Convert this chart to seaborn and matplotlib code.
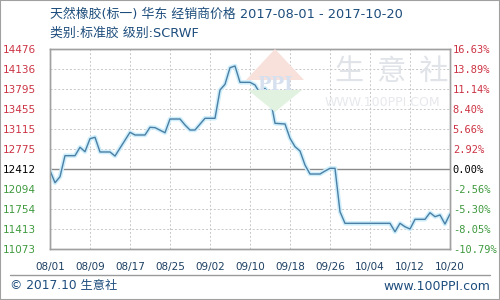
import matplotlib
matplotlib.use("Agg")
import matplotlib.pyplot as plt
from matplotlib.patches import Polygon, Rectangle
from matplotlib.lines import Line2D
import seaborn as sns
import pandas as pd

sns.set_theme(style="white")
plt.rcParams['font.family'] = ['Noto Sans CJK SC', 'DejaVu Sans']

# ---- data ----
dates = ["2017-08-01", "2017-08-02", "2017-08-03", "2017-08-04", "2017-08-06", "2017-08-07",
         "2017-08-08", "2017-08-09", "2017-08-10", "2017-08-11", "2017-08-13", "2017-08-14",
         "2017-08-17", "2017-08-18", "2017-08-20", "2017-08-21", "2017-08-22", "2017-08-24",
         "2017-08-25", "2017-08-27", "2017-08-28", "2017-08-29", "2017-08-30", "2017-09-01",
         "2017-09-03", "2017-09-04", "2017-09-05", "2017-09-06", "2017-09-07", "2017-09-08",
         "2017-09-10", "2017-09-11", "2017-09-12", "2017-09-13", "2017-09-14", "2017-09-15",
         "2017-09-17", "2017-09-18", "2017-09-19", "2017-09-20", "2017-09-21", "2017-09-22",
         "2017-09-24", "2017-09-25", "2017-09-26", "2017-09-27", "2017-09-28", "2017-09-29",
         "2017-10-08", "2017-10-09", "2017-10-10", "2017-10-11", "2017-10-12", "2017-10-13",
         "2017-10-15", "2017-10-16", "2017-10-17", "2017-10-18", "2017-10-19", "2017-10-20"]
prices = [12412, 12206, 12308, 12666, 12666, 12809,
          12734, 12955, 12979, 12729, 12729, 12660,
          13064, 13018, 13018, 13149, 13143, 13057,
          13290, 13290, 13188, 13103, 13103, 13302,
          13302, 13783, 13880, 14163, 14192, 13914,
          13914, 13869, 13727, 13812, 13670, 13217,
          13205, 12962, 12819, 12746, 12507, 12354,
          12354, 12405, 12451, 12451, 11713, 11515,
          11515, 11372, 11515, 11457, 11418, 11583,
          11583, 11696, 11628, 11657, 11503, 11674]
base_price = 12412
y_ticks = [11073, 11413, 11754, 12094, 12434, 12775, 13115, 13455, 13795, 14136, 14476]
y_labels_left = ["11073", "11413", "11754", "12094", "12412", "12775", "13115", "13455", "13795", "14136", "14476"]
y_labels_right = ["-10.79%", "-8.05%", "-5.30%", "-2.56%", "0.00%", "2.92%", "5.66%", "8.40%", "11.14%", "13.89%", "16.63%"]
x_tick_dates = ["2017-08-01", "2017-08-09", "2017-08-17", "2017-08-25", "2017-09-02", "2017-09-10",
                "2017-09-18", "2017-09-26", "2017-10-04", "2017-10-12", "2017-10-20"]
x_tick_labels = ["08/01", "08/09", "08/17", "08/25", "09/02", "09/10", "09/18", "09/26", "10/04", "10/12", "10/20"]
title_line1 = "天然橡胶(标一) 华东 经销商价格 2017-08-01 - 2017-10-20"
title_line2 = "类别:标准胶 级别:SCRWF"

df = pd.DataFrame({"date": pd.to_datetime(dates), "price": prices})

W, H = 500, 300
fig = plt.figure(figsize=(5, 3), dpi=100)
fig.patch.set_facecolor("white")

def fx(px):
    return px / W

def fy(py):
    return 1 - py / H

ax = fig.add_axes([fx(50), fy(249.3), fx(450) - fx(50), fy(49.3) - fy(249.3)])
ax.set_facecolor("white")

# watermark (behind)
logo_top = Polygon([(fx(275), fy(49)), (fx(246), fy(80)), (fx(304), fy(80))], closed=True,
                   transform=fig.transFigure, facecolor="#f8e0db", edgecolor="none", zorder=0)
logo_bot = Polygon([(fx(248), fy(90)), (fx(302), fy(90)), (fx(275), fy(112))], closed=True,
                   transform=fig.transFigure, facecolor="#e2f2e0", edgecolor="none", zorder=0)
fig.patches.extend([logo_top, logo_bot])
fig.text(fx(275), fy(85), "PPI", color="#d6e0ee", fontsize=13, fontweight="bold",
         ha="center", va="center", family=["DejaVu Serif"], zorder=0)
fig.text(fx(392), fy(72), "生  意  社", color="#e0e3e8", fontsize=21, ha="center", va="center",
         zorder=0)
fig.text(fx(382), fy(103), "WWW.100PPI.COM", color="#e6e8ec", fontsize=9, ha="center",
         va="center", family=["DejaVu Sans"], zorder=0)

# line with glow
sns.lineplot(data=df, x="date", y="price", ax=ax, color="#cdeefa", linewidth=3.2, zorder=3)
sns.lineplot(data=df, x="date", y="price", ax=ax, color="#4b7fa5", linewidth=1.0, zorder=4)

start = pd.Timestamp("2017-08-01")
end = pd.Timestamp("2017-10-20")
ax.set_xlim(start, end)
ax.set_ylim(11073, 14476)
ax.set_xlabel("")
ax.set_ylabel("")

xt = pd.to_datetime(x_tick_dates)
ax.set_xticks(xt)
ax.set_xticklabels(x_tick_labels)
ax.set_yticks(y_ticks)
ax.set_yticklabels(y_labels_left)
ax.tick_params(axis="x", length=0, pad=9, labelsize=7.5, labelcolor="#1d3f62")
ax.tick_params(axis="y", length=0, pad=10, labelsize=7.5)
for lbl in ax.get_xticklabels():
    lbl.set_family(["DejaVu Sans"])

red, green = "#cc3344", "#3f9a3f"
for lbl, v in zip(ax.get_yticklabels(), y_ticks):
    lbl.set_family(["DejaVu Sans"])
    lbl.set_color(red if v > 12434 else ("#000000" if v == 12434 else green))

ax2 = ax.twinx()
ax2.set_ylim(ax.get_ylim())
ax2.set_yticks(y_ticks)
ax2.set_yticklabels(y_labels_right)
ax2.tick_params(axis="y", length=0, pad=2, labelsize=7.5)
for lbl, v in zip(ax2.get_yticklabels(), y_ticks):
    lbl.set_family(["DejaVu Sans Mono"])
    lbl.set_color(red if v > 12434 else ("#000000" if v == 12434 else green))
ax2.grid(False)

ax.grid(True, color="#c8c8c8", linestyle=(0, (2, 2)), linewidth=0.7)
ax.axhline(12434, color="#8a8a8a", linewidth=1.0, zorder=2)
for a in (ax, ax2):
    for s in a.spines.values():
        s.set_color("#a0a0a0")
        s.set_linewidth(1.0)

# titles
fig.text(fx(50), fy(14), title_line1, color="#1d4d7c", fontsize=9.3, ha="left", va="center",
         family=["DejaVu Sans", "Noto Sans CJK SC"])
fig.text(fx(50), fy(33), title_line2, color="#1d4d7c", fontsize=9.3, ha="left", va="center",
         family=["DejaVu Sans", "Noto Sans CJK SC"])

# footer
fig.lines.append(Line2D([fx(10), fx(490)], [fy(275), fy(275)], transform=fig.transFigure,
                        color="#9a9a9a", linewidth=1.0))
fig.text(fx(10), fy(286), "© 2017.10 生意社", color="#1d4d7c", fontsize=8.8, ha="left", va="center",
         family=["DejaVu Sans", "Noto Sans CJK SC"])
fig.text(fx(490), fy(286), "www.100PPI.com", color="#1d4d7c", fontsize=9, ha="right",
         va="center", family=["DejaVu Sans"])

# outer border
fig.patches.append(Rectangle((0, 0), 1, 1, transform=fig.transFigure, fill=False,
                             edgecolor="#a0a0a0", linewidth=1.5))

fig.savefig("out.png", dpi=100)
